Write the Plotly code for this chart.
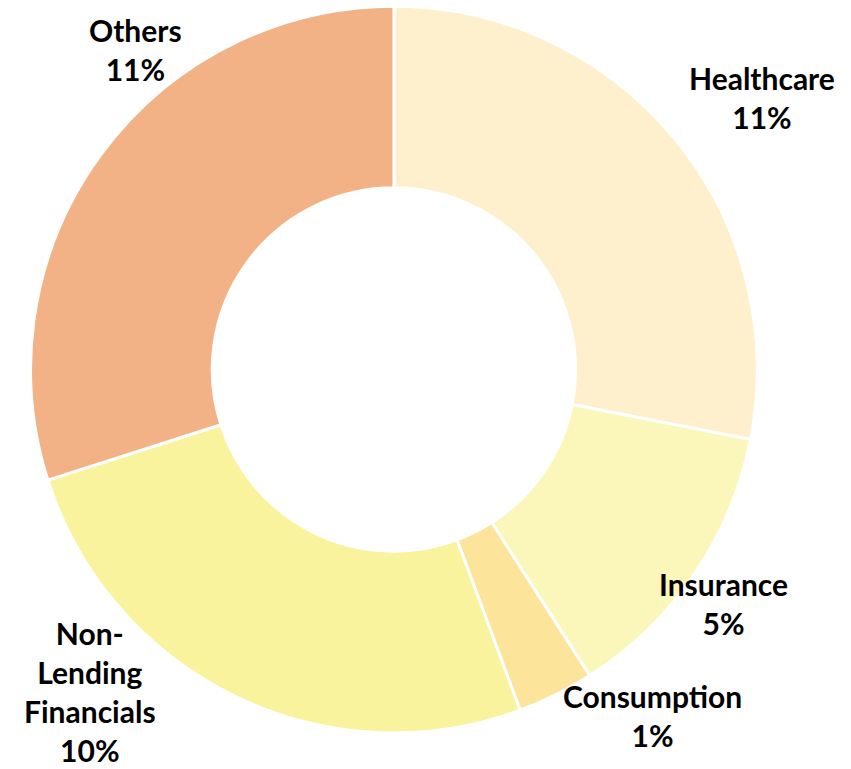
import plotly.graph_objects as go

sectors = ["Healthcare", "Insurance", "Consumption", "Non-Lending Financials", "Others"]
label_lines = ["Healthcare", "Insurance", "Consumption", "Non-<br>Lending<br>Financials", "Others"]
shares = [10.7, 4.9, 1.3, 9.8, 11.4]
colors = ["#FEF0CD", "#FBF7BA", "#FDE49B", "#F8F39C", "#F3B186"]

# label placement (paper coordinates), kept apart from the data
label_pos = [(0.8954, 0.8726), (0.8496, 0.2146), (0.7673, 0.0702), (0.1058, 0.1005), (0.1598, 0.935)]

fig = go.Figure(
    go.Pie(
        labels=sectors,
        values=shares,
        textinfo="none",
        hole=0.5,
        sort=False,
        direction="clockwise",
        rotation=0,
        marker=dict(colors=colors, line=dict(color="#FFFFFF", width=3)),
        domain=dict(x=[0.0358, 0.890], y=[0.047, 0.992]),
        showlegend=False,
        hoverinfo="label+value",
    )
)

for lbl, val, (px, py) in zip(label_lines, shares, label_pos):
    fig.add_annotation(
        x=px, y=py, xref="paper", yref="paper",
        text=f"<b>{lbl}<br>{round(val)}%</b>",
        showarrow=False, xanchor="center", yanchor="middle", align="center",
        font=dict(family="Lato", size=30, color="#000000", weight=900),
    )

fig.update_layout(
    width=851,
    height=769,
    margin=dict(l=0, r=0, t=0, b=0),
    paper_bgcolor="#FFFFFF",
    plot_bgcolor="#FFFFFF",
)

fig.write_html(
    "out.html",
    config={"displayModeBar": False},
    post_script="document.body.style.margin='0';",
)
